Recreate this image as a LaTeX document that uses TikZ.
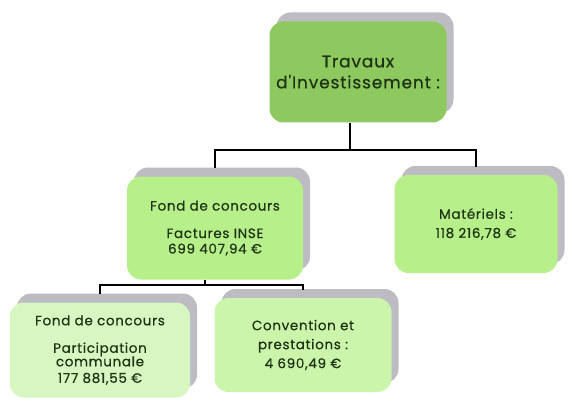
\documentclass[tikz,border=0pt]{standalone}
\usepackage{fontspec}
\setmainfont{Poppins}
\newfontfamily\boxfont{Poppins}[FakeBold=0.6, LetterSpace=5]
\usetikzlibrary{shadows}
\definecolor{topgreen}{HTML}{8DC95F}
\definecolor{midgreen}{HTML}{B7F08A}
\definecolor{palegreen}{HTML}{D8F6C2}
\definecolor{softgreen}{HTML}{CCF5AC}
\definecolor{shadowgray}{HTML}{BCBCC2}
\definecolor{textgreen}{HTML}{1E3414}
\begin{document}
\begin{tikzpicture}[x=1pt,y=-1pt]
\tikzset{
    box/.style={rounded corners=14pt, align=center, text=textgreen, font=\boxfont\fontsize{13.5}{19}\selectfont,
        general shadow={fill=shadowgray, shadow xshift=7pt, shadow yshift=9pt}},
    link/.style={line width=1.6pt, black}
}
\useasboundingbox (0,0) rectangle (575,401);

\draw node[box, fill=topgreen, minimum width=177pt, minimum height=101pt, font=\boxfont\fontsize{17}{21}\selectfont] (trav) at (358,72) {Travaux\\d'Investissement :};
\draw node[box, fill=midgreen, minimum width=176pt, minimum height=103pt, font=\boxfont\fontsize{13.5}{15.5}\selectfont] (fond) at (215,228) {Fond de concours\\[12pt]Factures INSE\\699 407,94 €};
\draw node[box, fill=midgreen, minimum width=163pt, minimum height=98pt] (mat) at (476,224) {Matériels :\\118 216,78 €};
\draw node[box, fill=palegreen, minimum width=180pt, minimum height=95pt, font=\boxfont\fontsize{13.5}{13.5}\selectfont] (part) at (100,350) {Fond de concours\\[14pt]Participation\\communale\\[3pt]177 881,55 €};
\draw node[box, fill=softgreen, minimum width=177pt, minimum height=94pt] (conv) at (303,345) {Convention et\\prestations :\\4 690,49 €};

\foreach \x/\y in {%
    fond/trav, mat/trav%
}{
\draw[link] ([xshift=-8pt]\y.south) -- ++(0,27) -| ([yshift=8pt]\x.north);
}
\foreach \x/\y in {%
    part/fond, conv/fond%
}{
\draw[link] ([xshift=-10pt]\y.south) -- ++(0,5) -| ([yshift=8pt]\x.north);
}
\end{tikzpicture}
\end{document}
